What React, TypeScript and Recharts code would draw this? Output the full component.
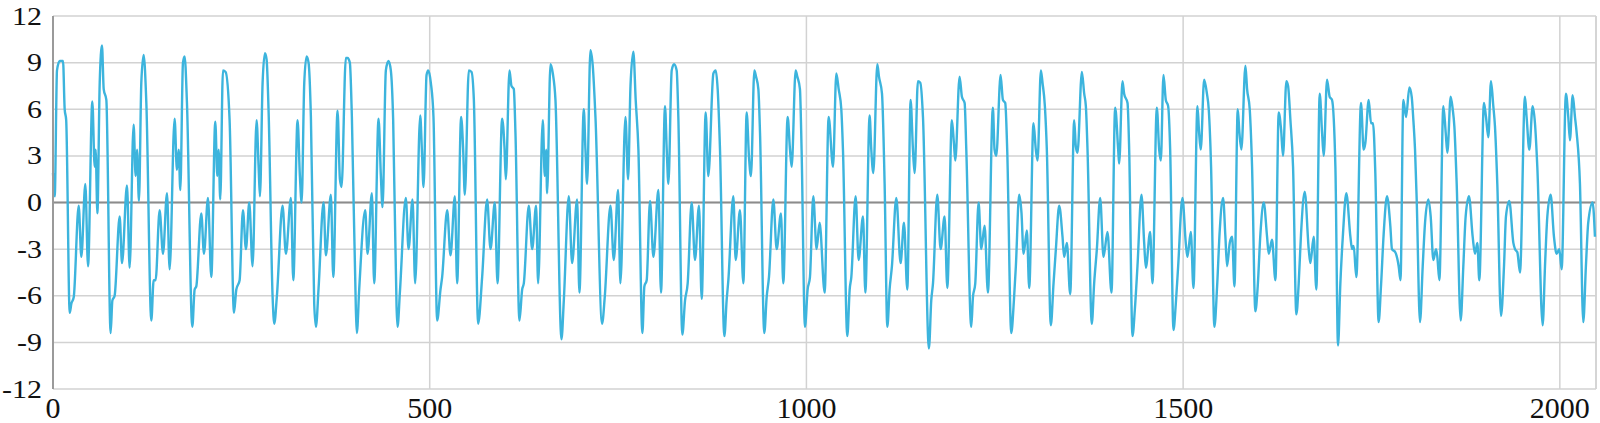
import { LineChart, Line, XAxis, YAxis, CartesianGrid, ReferenceLine } from "recharts";

// [sample, value], split by x range
const seg0to500: [number, number][] = [
  [0, 1.9], [2.3, 0.4], [5.3, 8.5], [8.9, 9.1], [13.3, 9.1], [15.5, 6.0], [17.5, 5.3], [22.2, -7.1], [24.4, -6.5], [27.5, -6.1],
  [34.1, -0.2], [37.6, -3.5], [42.9, 1.2], [46.5, -4.1], [52.2, 6.5], [55.3, 2.3], [56.6, 3.4], [58.9, -0.7], [62, 7.7], [65, 10.1],
  [67.3, 7.3], [70.8, 6.6], [76.5, -8.4], [78.8, -6.3], [81.8, -6.0], [88.5, -0.9], [91.6, -3.9], [98.2, 1.1], [101.7, -4.2], [107, 5.0],
  [109.7, 1.7], [111.5, 3.4], [114.1, 0.1], [117.2, 7.7], [120.3, 9.5], [123.9, 6.4], [130.5, -7.6], [133.6, -5.0], [136.2, -5.0], [141.5, -0.5],
  [146, -3.3], [151.3, 0.6], [154.8, -4.3], [161.4, 5.4], [164.5, 2.1], [166.8, 3.4], [169, 0.8], [172.5, 9.0], [174.7, 9.4], [177.8, 6.4],
  [184.9, -8.0], [188, -5.6], [190.2, -5.4], [196.8, -0.7], [200.4, -3.3], [205.7, 0.3], [210.1, -4.8], [215.4, 5.2], [218.1, 1.7], [219.8, 3.4],
  [222, 0.2], [225.6, 8.5], [229.1, 8.4], [234.4, 5.3], [240.2, -7.1], [243.3, -5.6], [247.7, -5.0], [252.1, -0.5], [256.1, -3.0], [260.5, 0],
  [264.9, -4.1], [270.2, 5.3], [272.9, 2.3], [274.7, 0.4], [278.2, 7.7], [281.3, 9.6], [283.5, 9.2], [286.2, 5.8], [291.5, -6.1], [293.7, -7.8],
  [297.2, -6.0], [304.7, -0.2], [309.1, -3.3], [315.8, 0.3], [318.9, -5.0], [324.6, 5.3], [327.7, 1.7], [330, 0], [333.5, 7.7], [336.6, 9.4],
  [339.2, 9.0], [342.3, 5.5], [346.7, -6.5], [349, -8.0], [352.5, -5.5], [359.1, 0], [362.2, -3.4], [368.8, 0.5], [372, -4.8], [377.7, 5.9],
  [380.8, 1.5], [383, 1.0], [388.7, 9.3], [391, 9.3], [394, 9.0], [396.7, 5.5], [402, -6.9], [403.3, -8.4], [406.4, -5.6], [414.4, -0.5],
  [417.5, -3.3], [423.2, 0.6], [426.3, -5.2], [432.1, 5.4], [435.2, 1.7], [437.4, -0.3], [441.8, 8.5], [445.3, 9.1], [448.4, 8.5], [451.5, 5.3],
  [456, -6.7], [457.3, -8.0], [460.4, -5.8], [468.3, 0.3], [471.9, -3.0], [477.2, 0.2], [480.7, -5.2], [487.4, 5.6], [489.6, 3.4], [491.8, 1.0],
  [495.8, 8.2], [498, 8.5],
];

const seg500to1000: [number, number][] = [
  [501.5, 7.7], [505, 5.5], [509.9, -7.6], [514.3, -5.6], [516.5, -4.8], [523.2, -0.5], [527.6, -3.4], [533.4, 0.4], [536.4, -5.2], [541.7, 5.5],
  [544.4, 3.4], [546.6, 0.5], [551.9, 8.5], [555.5, 8.4], [558.6, 6.6], [564.3, -7.8], [569.6, -4.8], [576.2, 0.2], [580.7, -3.0], [586.4, 0],
  [590, -5.2], [596.1, 5.4], [599.2, 3.6], [601, 1.5], [605.9, 8.5], [608.5, 7.5], [611.6, 7.3], [613.8, 4.5], [619.1, -7.6], [622.7, -5.6],
  [624.9, -5.2], [631.5, -0.2], [636, -3.0], [641.2, -0.2], [643.9, -5.2], [650.1, 5.3], [652.7, 1.7], [654.5, 3.4], [655.8, 0.6], [660.3, 8.9],
  [663.4, 8.3], [666.9, 6.6], [674.9, -8.8], [678, -6.3], [684.6, 0.4], [689, -3.9], [695.6, 0.2], [698.7, -5.8], [704.5, 6.0], [706.7, 3.4],
  [708.9, 1.2], [713.3, 9.8], [716.4, 8.8], [720, 5.5], [728.8, -7.8], [732.3, -6.1], [739.9, -0.2], [744.3, -3.7], [750, 0.8], [753.1, -5.2],
  [759.8, 5.5], [763.3, 1.5], [766.5, 7.5], [770.3, 9.7], [773.4, 6.6], [777, 3.4], [782.3, -8.4], [784.9, -5.4], [788, -5.0], [792.4, 0.1],
  [796.9, -3.5], [803.5, 0.8], [807, -5.8], [812.3, 6.2], [814.6, 3.4], [816.8, 1.2], [821.2, 8.5], [824.3, 8.9], [827.8, 8.5], [830, 5.5],
  [835.3, -8.5], [838.9, -6.3], [842.4, -5.2], [847.7, 0], [852.1, -3.7], [857.4, -0.2], [861, -6.2], [866.3, 5.8], [869.8, 1.7], [876.5, 8.3],
  [879.6, 8.5], [882.2, 7.3], [885.3, 3.4], [891.1, -8.6], [894.1, -6.3], [896.4, -5.0], [903, 0.4], [906.1, -3.7], [911.8, -0.5], [916.3, -5.2],
  [920.7, 5.8], [923.8, 2.9], [926.4, 1.7], [930.9, 8.5], [933.1, 8.1], [936.2, 7.3], [938.4, 4.5], [944.1, -8.4], [947.2, -6.1], [950.3, -4.8],
  [956.1, 0.2], [960.5, -3.0], [966.2, -0.7], [969.3, -5.2], [975.1, 5.5], [978.2, 3.4], [980.4, 2.3], [985.7, 8.5], [987.9, 8.1], [991.4, 7.3],
  [993.6, 3.4], [998.1, -8.0],
];

const seg1000to1500: [number, number][] = [
  [1001.6, -5.6], [1004.7, -4.8], [1009.1, 0.4], [1013.5, -3.0], [1017.5, -1.3], [1024.2, -5.8], [1029.5, 5.5], [1035.3, 2.3], [1039.7, 8.3], [1042.8, 7.3],
  [1046.3, 6.0], [1048.5, 3.4], [1054.3, -8.6], [1057.4, -5.6], [1059.6, -4.8], [1065.3, 0.4], [1069.3, -3.7], [1075.1, -0.9], [1078.2, -5.8], [1083.9, 5.6],
  [1086.1, 3.4], [1088.8, 1.9], [1094.1, 8.9], [1096.3, 8.1], [1100.3, 7.0], [1103.8, 1.2], [1107.4, -8.0], [1110.4, -5.6], [1113.5, -4.1], [1119.3, 0.3],
  [1125, -3.9], [1129.5, -1.3], [1133.9, -5.6], [1138.3, 6.6], [1141.4, 3.4], [1143.6, 1.9], [1148, 7.8], [1151.1, 7.7], [1154.7, 5.5], [1162.6, -9.4],
  [1165.7, -6.3], [1168, -5.2], [1173.7, 0.5], [1178.1, -3.0], [1183.4, -0.9], [1187, -5.5], [1193.1, 5.3], [1195.8, 3.8], [1197.6, 2.7], [1203.3, 8.1],
  [1206.4, 6.8], [1210, 6.4], [1212.2, 3.4], [1218.8, -8.0], [1221, -6.1], [1224.1, -5.2], [1228.5, 0], [1232.1, -3.0], [1236.5, -1.5], [1240.9, -5.8],
  [1247.5, 6.1], [1249.7, 3.4], [1252, 3.0], [1257.7, 8.2], [1260.8, 6.6], [1263.9, 6.4], [1266.5, 3.4], [1271.9, -8.4], [1275.4, -6.3], [1278, -4.1],
  [1282.4, 0.5], [1285.5, -0.7], [1288.2, -3.3], [1292.6, -1.8], [1295.7, -5.5], [1301.4, 5.1], [1304.5, 3.4], [1306.8, 2.7], [1311.2, 8.5], [1313.4, 7.7],
  [1316.5, 6.2], [1319.1, 3.4], [1324.4, -7.9], [1328, -5.2], [1331.1, -3.0], [1335.5, -0.2], [1339.9, -2.2], [1342.1, -3.5], [1345.7, -2.6], [1350.1, -5.9],
  [1355.4, 5.3], [1357.6, 3.6], [1359.8, 3.2], [1365.6, 8.4], [1368.7, 7.0], [1370.9, 6.2], [1373.1, 3.4], [1378.8, -7.8], [1381.9, -5.2], [1385.5, -3.0],
  [1389.9, 0.3], [1394.3, -3.5], [1399.6, -1.9], [1404.9, -5.8], [1409.8, 6.1], [1413.8, 3.4], [1415.1, 2.5], [1419.5, 7.8], [1421.7, 7.0], [1426.2, 6.4],
  [1428.4, 3.4], [1432.8, -8.6], [1435.9, -6.9], [1439.4, -4.1], [1444.7, 0.5], [1448.3, -2.6], [1450.5, -4.2], [1456.2, -1.9], [1459.3, -5.2], [1465.1, 6.1],
  [1468.2, 3.4], [1470.4, 2.7], [1473.9, 8.2], [1477, 6.6], [1480.1, 6.2], [1482.8, 3.4], [1487.2, -8.2], [1490.3, -6.5], [1493.4, -4.1], [1499.1, 0.3],
];

const seg1500to2048: [number, number][] = [
  [1503.5, -2.6], [1505.7, -3.5], [1510.2, -1.9], [1513.7, -5.5], [1519, 6.2], [1521.2, 4.5], [1523.4, 3.4], [1527.9, 7.9], [1531.6, 7.0], [1534, 6.0],
  [1537.1, 2.3], [1541.5, -8.0], [1545.1, -5.4], [1548.6, -1.8], [1553, 0.3], [1556.1, -2.2], [1558.3, -4.1], [1561.9, -2.6], [1565, -2.2], [1568.1, -5.4],
  [1572.5, 6.0], [1574.7, 4.5], [1577.3, 3.4], [1582.7, 8.8], [1584.9, 7.3], [1588.4, 6.0], [1591.5, 2.3], [1595.9, -7.0], [1599, -5.4], [1602.6, -2.0],
  [1607, 0], [1611.4, -2.2], [1613.6, -3.3], [1618, -2.4], [1622.5, -5.0], [1626.9, 5.8], [1630, 4.7], [1632.6, 3.0], [1637, 7.8], [1639.3, 7.5],
  [1642.4, 5.3], [1645.9, 2.3], [1650.3, -7.2], [1653.4, -5.2], [1656.5, -2.0], [1661.4, 0.7], [1666.7, -3.0], [1668.9, -3.9], [1673.3, -2.2], [1676.8, -5.6],
  [1681.3, 7.0], [1684.4, 4.5], [1686.6, 3.0], [1691, 7.9], [1694.5, 6.8], [1697.6, 6.6], [1702.1, 2.3], [1705.6, -9.2], [1708.7, -5.2], [1712.2, -2.0],
  [1716.6, 0.6], [1722, -2.2], [1724.2, -3.0], [1726.4, -2.8], [1729.9, -4.8], [1736.1, 6.4], [1739.6, 3.4], [1741.8, 3.8], [1746.3, 6.6], [1749.4, 5.1],
  [1752, 5.1], [1755.1, 1.9], [1759.5, -7.7], [1762.6, -5.4], [1766.2, -2.0], [1770.6, 0.4], [1775, -1.5], [1777.2, -3.0], [1781.6, -3.2], [1786.1, -4.1],
  [1788.5, -5.0], [1792.3, 6.6], [1795.9, 5.5], [1800.3, 7.4], [1803.4, 6.8], [1805.6, 5.3], [1807.8, 3.4], [1810, 0.2], [1814.4, -7.7], [1818, -4.1],
  [1821.1, -1.3], [1825.5, 0.2], [1828.6, -0.9], [1832.1, -3.7], [1835.7, -3.0], [1837.4, -3.5], [1840.1, -5.0], [1845.4, 6.2], [1848.5, 4.5], [1850.7, 3.2],
  [1855.1, 6.8], [1857.8, 6.0], [1860, 4.9], [1863.1, 1.2], [1868.4, -7.6], [1871.9, -4.1], [1875, -0.9], [1879.4, 0.4], [1884.3, -2.2], [1887.4, -3.3],
  [1890.5, -2.6], [1893.1, -5.0], [1899.3, 6.4], [1902, 5.5], [1905.1, 4.2], [1908.6, 7.8], [1911.7, 6.2], [1913.9, 4.9], [1917, 1.2], [1921.9, -7.3],
  [1925.9, -4.1], [1928.5, -0.9], [1932.9, 0.1], [1938.3, -2.6], [1940.5, -3.0], [1943.6, -3.2], [1947.1, -4.5], [1953.7, 6.8], [1955.9, 5.5], [1959.5, 3.4],
  [1963.9, 6.2], [1967, 5.1], [1970.1, 2.3], [1977.2, -7.9], [1980.3, -4.1], [1983.4, -0.9], [1987.8, 0.5], [1992.2, -2.2], [1995.7, -3.3], [1999.3, -3.0],
  [2002.4, -4.3], [2008.1, 7.0], [2011.2, 5.5], [2013.4, 4.0], [2017, 6.9], [2020.1, 5.5], [2022.3, 4.5], [2026.7, 1.2], [2031.1, -7.7], [2034.6, -4.1],
  [2037.7, -1.3], [2043.5, 0], [2046.6, -2.2],
];

const xTicks = [0, 500, 1000, 1500, 2000];
const yTicks = [-12, -9, -6, -3, 0, 3, 6, 9, 12];
const X_MAX = 2048;

const LINE_COLOR = "#3cb4dd";
const GRID_COLOR = "#d2d2d2";
const FONT = "'Liberation Serif', 'DejaVu Serif', serif";

const data = [...seg0to500, ...seg500to1000, ...seg1000to1500, ...seg1500to2048].map(([x, y]) => ({ x, y }));

function YTick({ x, y, payload }: any) {
  return (
    <text
      transform={`translate(${x},${y}) scale(1.2,1)`}
      textAnchor="end"
      dominantBaseline="central"
      fontSize={25}
      fontFamily={FONT}
      fill="#111"
    >
      {payload.value}
    </text>
  );
}

function XTick({ x, y, payload }: any) {
  return (
    <text x={x} y={y + 20} textAnchor="middle" fontSize={30} fontFamily={FONT} fill="#111">
      {payload.value}
    </text>
  );
}

export default function App() {
  return (
    <div style={{ position: "absolute", left: 0, top: 0, background: "#fff" }}>
      <LineChart width={1600} height={423} data={data} margin={{ top: 16, right: 4, bottom: 0, left: 0 }}>
        <CartesianGrid stroke={GRID_COLOR} strokeWidth={1.5} />
        <XAxis
          dataKey="x"
          type="number"
          domain={[0, X_MAX]}
          ticks={xTicks}
          height={34}
          axisLine={false}
          tickLine={false}
          tickSize={0}
          tickMargin={9}
          tick={<XTick />}
          interval={0}
        />
        <YAxis
          type="number"
          domain={[-12, 12]}
          ticks={yTicks}
          width={53}
          axisLine={{ stroke: "#9a9a9a", strokeWidth: 2 }}
          tickLine={false}
          tickSize={0}
          tickMargin={11}
          tick={<YTick />}
          interval={0}
        />
        <ReferenceLine y={0} stroke="#8c8c8c" strokeWidth={2} />
        <ReferenceLine x={X_MAX} stroke={GRID_COLOR} strokeWidth={1.5} />
        <Line
          dataKey="y"
          type="monotone"
          stroke={LINE_COLOR}
          strokeWidth={2.4}
          dot={false}
          isAnimationActive={false}
        />
      </LineChart>
    </div>
  );
}
